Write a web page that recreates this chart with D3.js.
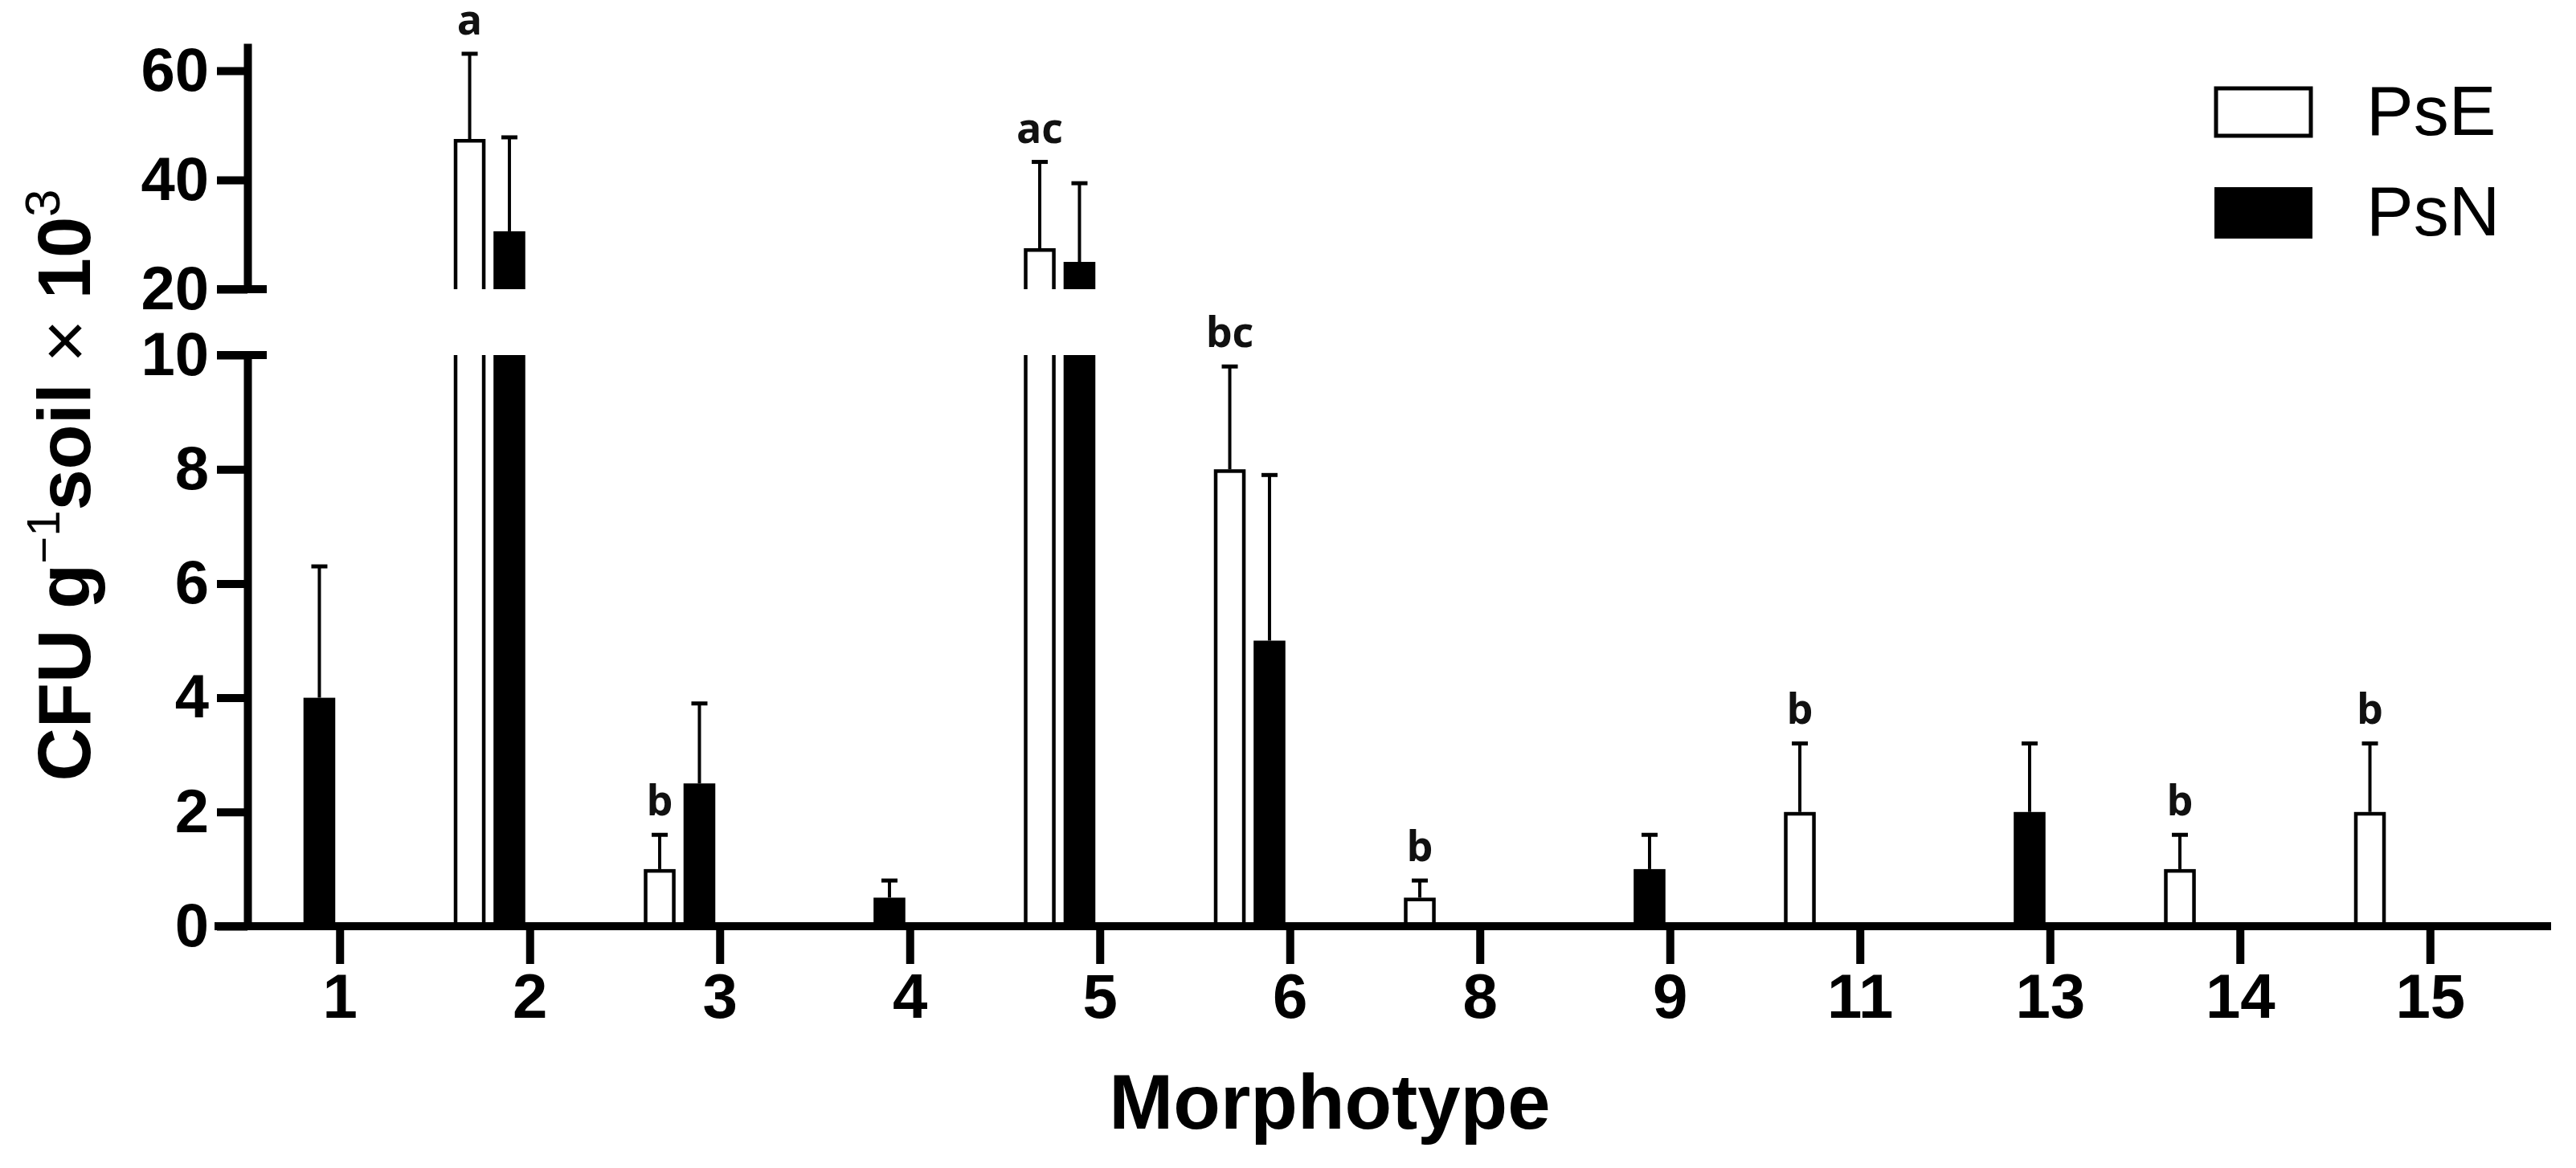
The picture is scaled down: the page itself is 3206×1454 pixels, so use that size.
<!DOCTYPE html>
<html><head><meta charset="utf-8">
<script src="https://cdn.jsdelivr.net/npm/d3@7"></script>
<style>body{margin:0;background:#fff} svg{display:block}</style>
</head><body>
<script>
// ---- data ----
const categories = ["1","2","3","4","5","6","8","9","11","13","14","15"];
const seriesNames = ["PsE","PsN"];
const psE    = [0, 47.5, 1.0, 0, 27.5, 8.0, 0.5, 0, 2.0, 0, 1.0, 2.0];
const psEErr = [0, 15.6, 0.6, 0, 15.8, 1.8, 0.3, 0, 1.2, 0, 0.6, 1.2];
const psN    = [4.0, 30.6, 2.5, 0.5, 25.0, 5.0, 0, 1.0, 0, 2.0, 0, 0];
const psNErr = [2.3, 17.2, 1.4, 0.3, 14.4, 2.9, 0, 0.6, 0, 1.2, 0, 0];
const sigLetters = ["", "a", "b", "", "ac", "bc", "b", "", "b", "", "b", "b"];
const lowerTicks = [0, 2, 4, 6, 8, 10];
const upperTicks = [20, 40, 60];
const lowerDomain = [0, 10];
const upperDomain = [20, 65];

const W = 3206, H = 1454;
const FONT = "Arial, 'Liberation Sans', sans-serif";
const svg = d3.select("body").append("svg").attr("width", W).attr("height", H)
  .style("background", "#fff");

const x = d3.scaleBand().domain(categories).range([305, 3143]);
const xs = d3.scaleBand().domain(seriesNames).range([-95, -6]).paddingInner(0.2);
const yLow = d3.scaleLinear().domain(lowerDomain).range([1153, 442]);
const yUp = d3.scaleLinear().domain(upperDomain).range([360, 54]);
const center = c => x(c) + x.bandwidth() / 2;

const rows = [];
categories.forEach((c, i) => {
  rows.push({c, s: "PsE", v: psE[i], e: psEErr[i], letter: sigLetters[i]});
  rows.push({c, s: "PsN", v: psN[i], e: psNErr[i], letter: ""});
});

const SW = 4.5; // open bar stroke
const bars = svg.append("g");
rows.filter(d => d.v > 0).forEach(d => {
  const x0 = center(d.c) + xs(d.s), w = xs.bandwidth();
  const open = d.s === "PsE";
  const broken = d.v > lowerDomain[1];
  if (!broken) {
    if (open) {
      bars.append("rect").attr("x", x0 + SW/2).attr("y", yLow(d.v) + SW/2)
        .attr("width", w - SW).attr("height", yLow(0) - yLow(d.v) - SW/2)
        .attr("fill", "#fff").attr("stroke", "#000").attr("stroke-width", SW);
    } else {
      bars.append("rect").attr("x", x0).attr("y", yLow(d.v))
        .attr("width", w).attr("height", yLow(0) - yLow(d.v)).attr("fill", "#000");
    }
  } else {
    const top = lowerDomain[1];
    if (open) {
      bars.append("path")
        .attr("d", `M${x0+SW/2},${yLow(0)}V${yLow(top)}M${x0+w-SW/2},${yLow(top)}V${yLow(0)}`)
        .attr("fill", "none").attr("stroke", "#000").attr("stroke-width", SW);
      bars.append("path")
        .attr("d", `M${x0+SW/2},${yUp(upperDomain[0])}V${yUp(d.v)+SW/2}H${x0+w-SW/2}V${yUp(upperDomain[0])}`)
        .attr("fill", "#fff").attr("stroke", "#000").attr("stroke-width", SW);
    } else {
      bars.append("rect").attr("x", x0).attr("y", yLow(top))
        .attr("width", w).attr("height", yLow(0) - yLow(top)).attr("fill", "#000");
      bars.append("rect").attr("x", x0).attr("y", yUp(d.v))
        .attr("width", w).attr("height", yUp(upperDomain[0]) - yUp(d.v)).attr("fill", "#000");
    }
  }
  // error bar (upper only)
  const ys = broken ? yUp : yLow;
  const cx = x0 + w / 2;
  if (d.e > 0) {
    bars.append("line").attr("x1", cx).attr("x2", cx)
      .attr("y1", ys(d.v)).attr("y2", ys(d.v + d.e))
      .attr("stroke", "#000").attr("stroke-width", 4);
    bars.append("line").attr("x1", cx - 10).attr("x2", cx + 10)
      .attr("y1", ys(d.v + d.e)).attr("y2", ys(d.v + d.e))
      .attr("stroke", "#000").attr("stroke-width", 5);
  }
  if (d.letter) {
    svg.append("text").attr("x", cx).attr("y", ys(d.v + d.e) - 24)
      .attr("text-anchor", "middle").attr("font-family", "'Open Sans', sans-serif")
      .attr("font-weight", 700).attr("font-size", 52).attr("fill", "#111")
      .text(d.letter);
  }
});

// ---- axes ----
function styleAxis(g, fs) {
  g.selectAll("path.domain").attr("stroke", "#000").attr("stroke-width", 10);
  g.selectAll(".tick line").attr("stroke", "#000").attr("stroke-width", 10);
  g.selectAll(".tick text").attr("font-family", FONT).attr("font-weight", "bold")
    .attr("font-size", fs).attr("fill", "#000");
}

// x axis
const gx = svg.append("g").attr("transform", `translate(0,${yLow(0)})`)
  .call(d3.axisBottom(x).tickSize(47).tickSizeOuter(0).tickPadding(12));
gx.select("path.domain").remove();
styleAxis(gx, 78);
svg.append("line").attr("x1", x.range()[0] - 38).attr("x2", x.range()[1] + 32)
  .attr("y1", yLow(0)).attr("y2", yLow(0)).attr("stroke", "#000").attr("stroke-width", 10);

// lower y axis
const axX = 308;
const gyl = svg.append("g").attr("transform", `translate(${axX},0)`)
  .call(d3.axisLeft(yLow).tickValues(lowerTicks).tickSize(38).tickPadding(10).tickSizeOuter(0).tickFormat(d3.format("d")));
styleAxis(gyl, 76);
// upper y axis
const gyu = svg.append("g").attr("transform", `translate(${axX},0)`)
  .call(d3.axisLeft(yUp).tickValues(upperTicks).tickSize(38).tickPadding(10).tickSizeOuter(0).tickFormat(d3.format("d")));
styleAxis(gyu, 76);
// break marks
[yLow(lowerDomain[1]), yUp(upperDomain[0])].forEach(yy => {
  svg.append("line").attr("x1", axX - 38).attr("x2", axX + 24)
    .attr("y1", yy).attr("y2", yy).attr("stroke", "#000").attr("stroke-width", 10);
});

// ---- axis titles ----
const yt = svg.append("text").attr("transform", "translate(112,604) rotate(-90)")
  .attr("text-anchor", "middle").attr("font-family", FONT).attr("font-weight", "bold")
  .attr("font-size", 92).attr("fill", "#000");
yt.append("tspan").text("CFU g");
yt.append("tspan").attr("font-size", 58).attr("font-weight", "normal").attr("dy", -38).text("\u22121");
yt.append("tspan").attr("dy", 38).text("soil ");
yt.append("tspan").attr("font-weight", "normal").text("\u00d7 ");
yt.append("tspan").text("10");
yt.append("tspan").attr("font-size", 62).attr("font-weight", "normal").attr("dy", -38).text("3");

svg.append("text").attr("x", 1655).attr("y", 1405).attr("text-anchor", "middle")
  .attr("font-family", FONT).attr("font-weight", "bold").attr("font-size", 96)
  .attr("fill", "#000").text("Morphotype");

// ---- legend ----
const leg = svg.append("g");
seriesNames.forEach((s, i) => {
  const y0 = 108 + i * 125;
  if (s === "PsE") {
    leg.append("rect").attr("x", 2758).attr("y", y0 + 2).attr("width", 118).attr("height", 59)
      .attr("fill", "#fff").attr("stroke", "#000").attr("stroke-width", 5);
  } else {
    leg.append("rect").attr("x", 2756).attr("y", y0).attr("width", 122).attr("height", 64)
      .attr("fill", "#000");
  }
  leg.append("text").attr("x", 2945).attr("y", y0 + 60).attr("font-family", FONT)
    .attr("font-size", 88).attr("fill", "#000").text(s);
});
</script>
</body></html>
